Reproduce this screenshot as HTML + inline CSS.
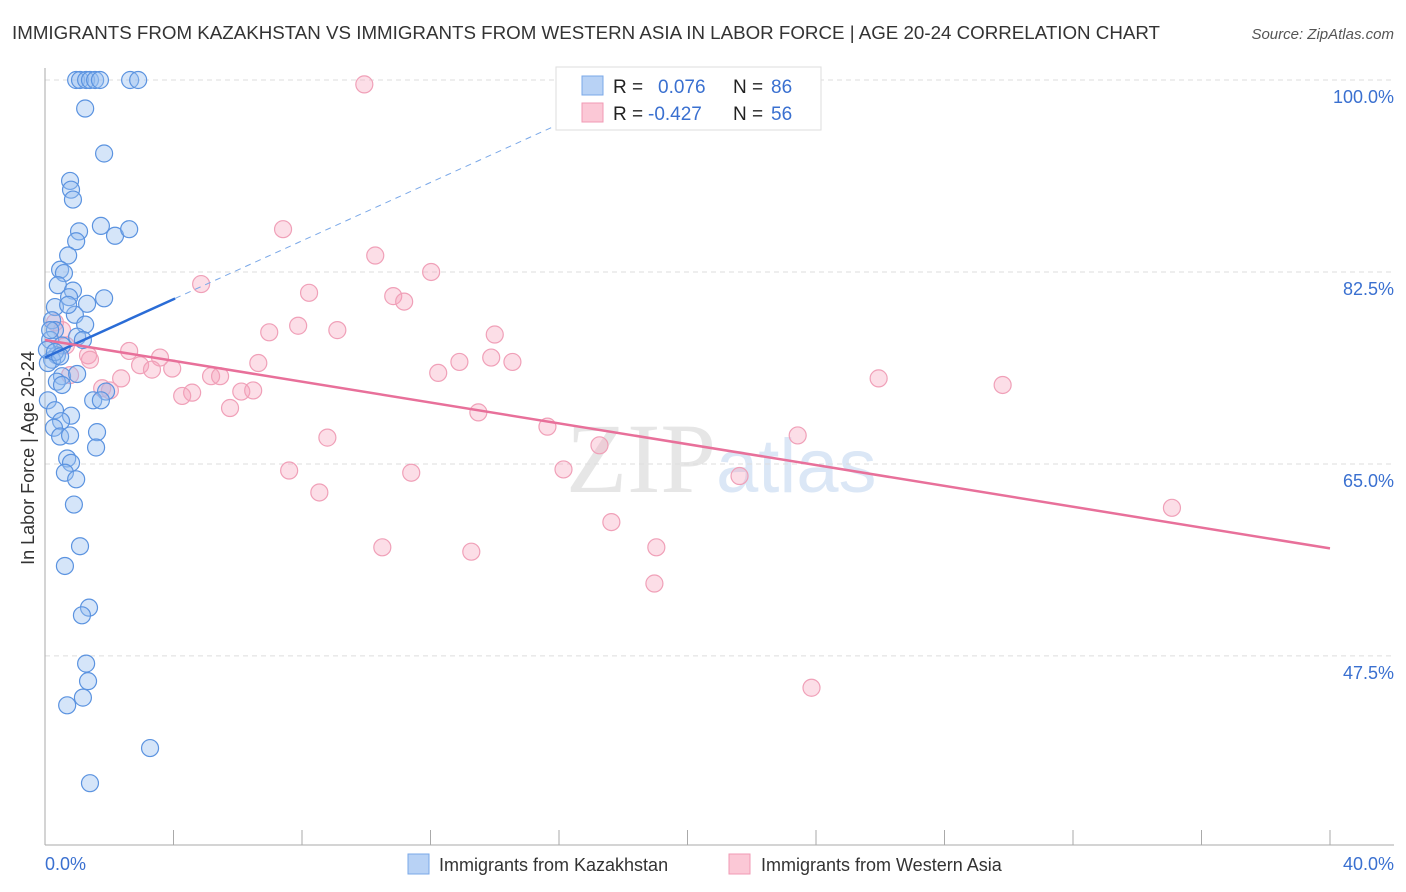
<!DOCTYPE html>
<html><head><meta charset="utf-8"><style>
body{margin:0;background:#fff;font-family:"Liberation Sans",sans-serif;}
svg{display:block}
</style></head><body>
<svg id="chart" width="1406" height="892">
<text x="12" y="39" font-size="18" fill="#333" textLength="1148" lengthAdjust="spacingAndGlyphs">IMMIGRANTS FROM KAZAKHSTAN VS IMMIGRANTS FROM WESTERN ASIA IN LABOR FORCE | AGE 20-24 CORRELATION CHART</text>
<text x="1394" y="39" font-size="15" fill="#555" font-style="italic" text-anchor="end">Source: ZipAtlas.com</text>
<text x="716" y="492" font-size="100" fill="#e6e6e6" font-family="Liberation Serif" text-anchor="end">ZIP</text>
<text x="716" y="492" font-size="76" fill="#dbe7f6">atlas</text>
<g id="grid"></g><g id="axes"></g><g id="marks"></g><g id="lines"></g>
<text transform="translate(34,458) rotate(-90)" font-size="18" fill="#333" text-anchor="middle">In Labor Force | Age 20-24</text>
<text x="45" y="870" font-size="18" fill="#3a70d0">0.0%</text>
<text x="1394" y="870" font-size="18" fill="#3a70d0" text-anchor="end">40.0%</text>
<g>
<rect x="556" y="67" width="265" height="63" fill="#fff" stroke="#ddd"/>
<rect x="582" y="76" width="21" height="19" fill="#b8d2f5" stroke="#7aa8e8"/>
<rect x="582" y="103" width="21" height="19" fill="#fbc8d6" stroke="#f09ab4"/>
<text x="613" y="93" font-size="19" fill="#222">R = </text><text x="658" y="93" font-size="19" fill="#3a70d0">0.076</text>
<text x="733" y="93" font-size="19" fill="#222">N = </text><text x="771" y="93" font-size="19" fill="#3a70d0">86</text>
<text x="613" y="120" font-size="19" fill="#222">R = </text><text x="648" y="120" font-size="19" fill="#3a70d0">-0.427</text>
<text x="733" y="120" font-size="19" fill="#222">N = </text><text x="771" y="120" font-size="19" fill="#3a70d0">56</text>
</g>
<g>
<rect x="408" y="854" width="21" height="20" fill="#b8d2f5" stroke="#7aa8e8"/>
<text x="439" y="871" font-size="18" fill="#333">Immigrants from Kazakhstan</text>
<rect x="729" y="854" width="21" height="20" fill="#fbc8d6" stroke="#f09ab4"/>
<text x="761" y="871" font-size="18" fill="#333">Immigrants from Western Asia</text>
</g>
</svg>
<script>
const yTicks=[100,82.5,65,47.5];
const yTickLabels=["100.0%","82.5%","65.0%","47.5%"];
const xTicks=[0,4,8,12,16,20,24,28,32,36,40];
const blueX=[0.97,1.09,1.28,1.40,1.56,1.71,2.65,2.90,1.25,1.84,0.78,0.81,0.87,1.74,2.18,2.62,1.06,0.97,0.72,0.47,0.59,0.40,0.31,0.87,0.75,1.31,1.84,0.93,0.72,0.22,1.25,0.31,0.16,1.00,1.18,0.53,0.37,0.22,0.09,0.53,1.00,0.37,0.53,0.09,1.90,1.50,1.74,0.31,0.81,0.50,0.28,0.47,0.78,1.62,1.59,0.69,0.81,0.62,0.97,0.90,1.09,0.62,1.37,1.15,1.28,1.34,0.69,1.18,3.27,1.40,0.16,0.06,0.31,0.47];
const blueY=[100,100,100,100,100,100,100,100,97.4,93.3,90.8,90.0,89.1,86.7,85.8,86.4,86.2,85.3,84.0,82.7,82.4,81.3,79.3,80.8,80.2,79.6,80.1,78.6,79.5,78.1,77.7,77.2,76.3,76.6,76.3,75.8,74.9,74.5,74.2,73.0,73.2,72.5,72.2,70.8,71.6,70.8,70.8,69.9,69.4,68.9,68.3,67.5,67.6,67.9,66.5,65.5,65.1,64.2,63.6,61.3,57.5,55.7,51.9,51.2,46.8,45.2,43.0,43.7,39.1,35.9,77.2,75.4,75.2,74.8];
const pinkX=[9.94,7.41,10.28,12.02,4.86,8.22,10.84,11.18,6.98,7.88,9.10,14.0,2.62,3.58,2.96,3.33,3.96,6.64,12.9,13.89,14.55,12.24,2.37,5.17,5.45,1.78,2.02,4.58,4.27,6.11,6.48,5.76,25.95,29.81,13.49,15.64,8.79,17.26,23.43,7.60,11.40,16.14,21.62,8.54,17.63,35.08,10.50,13.27,19.03,18.97,23.86,0.31,0.53,1.34,0.78,0.65,1.40];
const pinkY=[99.6,86.4,84.0,82.5,81.4,80.6,80.3,79.8,77.0,77.6,77.2,76.8,75.3,74.7,74.0,73.6,73.7,74.2,74.3,74.7,74.3,73.3,72.8,73.0,73.0,71.9,71.7,71.5,71.2,71.6,71.7,70.1,72.8,72.2,69.7,68.4,67.4,66.7,67.6,64.4,64.2,64.5,63.9,62.4,59.7,61.0,57.4,57.0,57.4,54.1,44.6,77.9,77.2,74.9,73.1,75.8,74.5];
const blueTrend=[74.7,1.33]; // intercept, slope
const pinkTrend=[76.3,-0.475];
const NS="http://www.w3.org/2000/svg";
const X=v=>45+v*32.125, Y=v=>80+(100-v)*10.97;
function mk(t,a,p){const e=document.createElementNS(NS,t);for(const k in a)e.setAttribute(k,a[k]);document.getElementById(p).appendChild(e);return e;}
yTicks.forEach((t,i)=>{
 const l=mk('line',{x1:45,x2:1394,y1:Y(t),y2:Y(t),stroke:'#ddd','stroke-dasharray':'5,4'},'grid');
 
 
 const tx=mk('text',{x:1394,y:Y(t)+23,'font-size':18,fill:'#3a70d0','text-anchor':'end'},'grid');
 tx.textContent=yTickLabels[i];
 
 
});
mk('line',{x1:45,x2:45,y1:68,y2:845,stroke:'#aaa'},'axes');
mk('line',{x1:45,x2:1394,y1:845,y2:845,stroke:'#aaa'},'axes');
xTicks.forEach(t=>{const l=mk('line',{x1:X(t),x2:X(t),y1:830,y2:845,stroke:'#aaa'},'axes');
 
 });
pinkX.forEach((v,i)=>{const c=mk('circle',{cx:X(v),cy:Y(pinkY[i]),r:8.5,fill:'rgba(245,160,185,0.35)',stroke:'#f0a0b8','stroke-width':1.2},'marks');
 
 });
blueX.forEach((v,i)=>{const c=mk('circle',{cx:X(v),cy:Y(blueY[i]),r:8.5,fill:'rgba(150,190,240,0.4)',stroke:'#5b93e0','stroke-width':1.2},'marks');
 
 });
const bf=x=>blueTrend[0]+blueTrend[1]*x, pf=x=>pinkTrend[0]+pinkTrend[1]*x;
const xEnd=(100-blueTrend[0])/blueTrend[1];
let l=mk('line',{x1:X(4.05),y1:Y(bf(4.05)),x2:X(xEnd),y2:Y(100),stroke:'#7aa8e8','stroke-dasharray':'6,5','stroke-width':1},'lines');


l=mk('line',{x1:X(0),y1:Y(bf(0)),x2:X(4.05),y2:Y(bf(4.05)),stroke:'#2a6cd6','stroke-width':2.5},'lines');


l=mk('line',{x1:X(0),y1:Y(pf(0)),x2:X(40),y2:Y(pf(40)),stroke:'#e8709a','stroke-width':2.5},'lines');


</script>
</body></html>
